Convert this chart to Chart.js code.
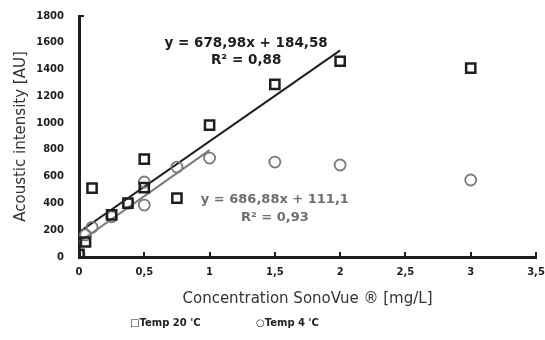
<!DOCTYPE html>
<html>
<head>
<meta charset="utf-8">
<script src="https://cdn.jsdelivr.net/npm/chart.js@4.4.1/dist/chart.umd.min.js"></script>
<style>
  html, body { margin: 0; padding: 0; background: #fff; }
  #wrap { position: relative; width: 545px; height: 340px; }
  #legend { position: absolute; top: 317px; left: 0; width: 545px; font-family: "DejaVu Sans", Verdana, sans-serif; font-weight: bold; font-size: 10px; color: #222; }
  #legend span { position: absolute; white-space: nowrap; }
</style>
</head>
<body>
<div id="wrap">
  <canvas id="c" width="545" height="340"></canvas>
  <div id="legend">
    <span style="left:130px;">&#9633;Temp 20 'C</span>
    <span style="left:256px;">&#9675;Temp 4 'C</span>
  </div>
</div>
<script>
// Temp 20 'C measured points
const conc20 = [0, 0.05, 0.1, 0.25, 0.375, 0.5, 0.5, 0.75, 1, 1.5, 2, 3];
const int20  = [20, 112, 515, 315, 403, 731, 518, 440, 985, 1290, 1462, 1410];
// Temp 4 'C measured points
const conc4 = [0, 0.05, 0.1, 0.25, 0.375, 0.5, 0.5, 0.75, 1, 1.5, 2, 3];
const int4  = [15, 165, 222, 300, 400, 560, 388, 672, 739, 709, 687, 575];
// trend line end points
const trend20X = [0, 2];
const trend20Y = [185, 1543];
const trend4X = [0, 1];
const trend4Y = [111, 798];
// equation labels
const eq20 = ["y = 678,98x + 184,58", "R\u00b2 = 0,88"];
const eq4  = ["y = 686,88x + 111,1", "R\u00b2 = 0,93"];
// axis ticks
const xTicks = [0, 0.5, 1, 1.5, 2, 2.5, 3, 3.5];
const yTicks = [0, 200, 400, 600, 800, 1000, 1200, 1400, 1600, 1800];

const pts = (xs, ys) => xs.map((x, i) => ({x: x, y: ys[i]}));

const BLACK = '#1e1e1e';
const GRAY = '#7a7a7a';
const FONT = '"DejaVu Sans", Verdana, sans-serif';

const decorPlugin = {
  id: 'decor',
  afterDatasetsDraw(chart) {
    const ctx = chart.ctx;
    const xs = chart.scales.x, ys = chart.scales.y;
    ctx.save();
    // inner x tick marks
    ctx.strokeStyle = BLACK;
    ctx.lineWidth = 2;
    xTicks.forEach(v => {
      if (v === 0) return;
      const px = Math.round(xs.getPixelForValue(v));
      ctx.beginPath();
      ctx.moveTo(px, ys.bottom);
      ctx.lineTo(px, ys.bottom - 5);
      ctx.stroke();
    });
    // top y tick
    const ty = Math.round(ys.getPixelForValue(1800));
    ctx.beginPath();
    ctx.moveTo(xs.left, ty);
    ctx.lineTo(xs.left + 5, ty);
    ctx.stroke();
    // equations
    ctx.textAlign = 'center';
    ctx.textBaseline = 'middle';
    ctx.fillStyle = BLACK;
    ctx.font = 'bold 13.5px ' + FONT;
    ctx.fillText(eq20[0], xs.getPixelForValue(1.28), ys.getPixelForValue(1598));
    ctx.fillText(eq20[1], xs.getPixelForValue(1.28), ys.getPixelForValue(1464));
    ctx.fillStyle = '#6e6e6e';
    ctx.font = 'bold 13px ' + FONT;
    ctx.fillText(eq4[0], xs.getPixelForValue(1.50), ys.getPixelForValue(426));
    ctx.fillText(eq4[1], xs.getPixelForValue(1.50), ys.getPixelForValue(291));
    ctx.restore();
  }
};

new Chart(document.getElementById('c'), {
  type: 'scatter',
  data: {
    datasets: [
      {
        type: 'line',
        label: 'trend20',
        data: pts(trend20X, trend20Y),
        borderColor: BLACK,
        borderWidth: 2,
        pointRadius: 0,
        fill: false,
        order: 3
      },
      {
        type: 'line',
        label: 'trend4',
        data: pts(trend4X, trend4Y),
        borderColor: GRAY,
        borderWidth: 2,
        pointRadius: 0,
        fill: false,
        order: 4
      },
      {
        label: "Temp 20 'C",
        data: pts(conc20, int20),
        pointStyle: 'rect',
        pointRadius: 6.5,
        pointBorderWidth: 2.5,
        borderColor: BLACK,
        backgroundColor: 'rgba(255,255,255,0)',
        order: 1
      },
      {
        label: "Temp 4 'C",
        data: pts(conc4, int4),
        pointStyle: 'circle',
        pointRadius: 5.5,
        pointBorderWidth: 1.8,
        borderColor: GRAY,
        backgroundColor: 'rgba(255,255,255,0)',
        order: 2
      }
    ]
  },
  options: {
    responsive: false,
    animation: false,
    devicePixelRatio: 1,
    layout: { padding: { top: 16, right: 8, bottom: 32, left: 0 } },
    plugins: { legend: { display: false }, tooltip: { enabled: false } },
    scales: {
      x: {
        type: 'linear',
        min: 0, max: 3.5,
        afterBuildTicks: (s) => { s.ticks = xTicks.map(v => ({value: v})); },
        afterFit: (s) => { s.height = 51; s.paddingLeft = 0; s.paddingRight = 0; },
        grid: { display: false, drawTicks: false },
        border: { display: true, color: BLACK, width: 3 },
        ticks: {
          padding: 9,
          color: BLACK,
          font: { family: FONT, size: 10, weight: 'bold' },
          callback: (v) => String(v).replace('.', ',')
        },
        title: {
          display: true,
          text: 'Concentration SonoVue \u00ae [mg/L]',
          color: '#333',
          font: { family: FONT, size: 15 },
          padding: { top: 0, bottom: 0 }
        }
      },
      y: {
        type: 'linear',
        min: 0, max: 1800,
        afterBuildTicks: (s) => { s.ticks = yTicks.map(v => ({value: v})); },
        afterFit: (s) => { s.width = 79; s.paddingTop = 0; s.paddingBottom = 0; },
        grid: { display: false, drawTicks: false },
        border: { display: true, color: BLACK, width: 3 },
        ticks: {
          padding: 15,
          color: BLACK,
          font: { family: FONT, size: 10, weight: 'bold' },
          callback: (v) => String(v)
        },
        title: {
          display: true,
          text: 'Acoustic intensity [AU]',
          color: '#333',
          font: { family: FONT, size: 15 },
          padding: { top: 12, bottom: 0 }
        }
      }
    }
  },
  plugins: [decorPlugin]
});
</script>
</body>
</html>
